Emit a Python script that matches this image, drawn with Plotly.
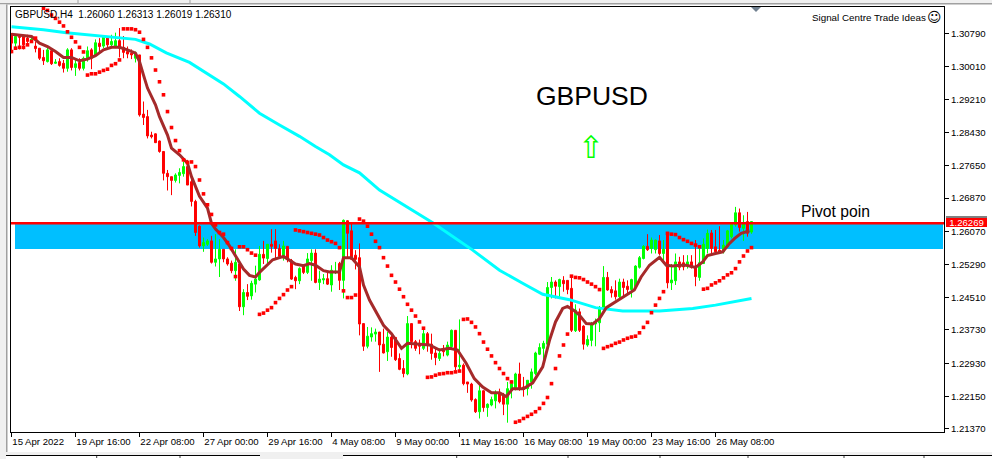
import plotly.graph_objects as go

# ---- data ----
tick_labels = ["15 Apr 2022", "19 Apr 16:00", "22 Apr 08:00", "27 Apr 00:00", "29 Apr 16:00", "4 May 08:00",
               "9 May 00:00", "11 May 16:00", "16 May 08:00", "19 May 00:00", "23 May 16:00", "26 May 08:00"]
tick_bars = [-0.05, 15.95, 31.95, 47.95, 63.95, 79.95, 95.95, 111.95, 127.95, 143.95, 159.95, 175.95]
price_ticks = [1.3079, 1.3001, 1.2921, 1.2843, 1.2765, 1.2687, 1.2607, 1.2529, 1.2451, 1.2373, 1.2293, 1.2215, 1.2137]
pivot = 1.26269
zone_low = 1.25657

opens = [
 1.3079,1.3056,1.3072,1.3072,1.3068,1.3062,1.3049,1.3044,1.3022,1.3012,
 1.3038,1.3008,1.3012,1.3008,1.2996,1.3040,1.2998,1.3010,1.2996,1.3018,
 1.3040,1.3028,1.3056,1.3049,1.3070,1.3052,1.3048,1.3062,1.3046,1.3036,
 1.3032,1.3020,1.3028,1.2887,1.2881,1.2837,1.2840,1.2823,1.2798,1.2746,
 1.2738,1.2729,1.2741,1.2745,1.2762,1.2726,1.2679,1.2620,1.2573,1.2577,
 1.2585,1.2534,1.2542,1.2565,1.2542,1.2532,1.2514,1.2530,1.2428,1.2462,
 1.2454,1.2482,1.2492,1.2553,1.2543,1.2577,1.2585,1.2567,1.2548,1.2572,
 1.2538,1.2498,1.2490,1.2526,1.2510,1.2538,1.2556,1.2486,1.2492,1.2495,
 1.2480,1.2509,1.2531,1.2491,1.2633,1.2609,1.2551,1.2545,1.2388,1.2334,
 1.2356,1.2363,1.2368,1.2339,1.2321,1.2356,1.2355,1.2305,1.2281,1.2268,
 1.2388,1.2345,1.2341,1.2329,1.2364,1.2339,1.2318,1.2305,1.2326,1.2313,
 1.2333,1.2372,1.2285,1.2289,1.2249,1.2244,1.2207,1.2178,1.2228,1.2188,
 1.2194,1.2204,1.2221,1.2218,1.2196,1.2229,1.2233,1.2268,1.2237,1.2233,
 1.2249,1.2269,1.2315,1.2329,1.2339,1.2474,1.2487,1.2476,1.2491,1.2491,
 1.2472,1.2371,1.2416,1.2382,1.2337,1.2348,1.2387,1.2390,1.2424,1.2498,
 1.2469,1.2466,1.2452,1.2487,1.2477,1.2469,1.2476,1.2522,1.2543,1.2572,
 1.2567,1.2564,1.2585,1.2555,1.2603,1.2485,1.2490,1.2535,1.2533,1.2525,
 1.2535,1.2525,1.2498,1.2531,1.2567,1.2604,1.2571,1.2563,1.2559,1.2571,
 1.2595,1.2623,1.2652,1.2615,1.2631,1.26060]
highs = [
 1.3079,1.3076,1.3076,1.3076,1.3076,1.3072,1.3060,1.3044,1.3040,1.3046,
 1.3040,1.3018,1.3020,1.3016,1.3044,1.3044,1.3020,1.3020,1.3024,1.3048,
 1.3044,1.3065,1.3068,1.3073,1.3073,1.3076,1.3081,1.3092,1.3073,1.3048,
 1.3041,1.3036,1.3028,1.2917,1.2897,1.2845,1.2841,1.2824,1.2798,1.2754,
 1.2738,1.2746,1.2758,1.2774,1.2778,1.2742,1.2683,1.2622,1.2593,1.2589,
 1.2597,1.2601,1.2589,1.2565,1.2546,1.2538,1.2565,1.2534,1.2470,1.2482,
 1.2490,1.2526,1.2573,1.2585,1.2577,1.2613,1.2613,1.2577,1.2585,1.2572,
 1.2542,1.2502,1.2522,1.2530,1.2556,1.2565,1.2565,1.2514,1.2506,1.2510,
 1.2527,1.2535,1.2535,1.2636,1.2634,1.2630,1.2563,1.2579,1.2388,1.2380,
 1.2379,1.2376,1.2368,1.2376,1.2368,1.2360,1.2356,1.2317,1.2301,1.2406,
 1.2388,1.2349,1.2350,1.2376,1.2368,1.2364,1.2329,1.2329,1.2337,1.2345,
 1.2374,1.2372,1.2398,1.2293,1.2249,1.2247,1.2210,1.2247,1.2229,1.2198,
 1.2214,1.2229,1.2233,1.2223,1.2249,1.2253,1.2271,1.2295,1.2261,1.2253,
 1.2281,1.2321,1.2341,1.2347,1.2487,1.2499,1.2491,1.2495,1.2501,1.2491,
 1.2503,1.2434,1.2424,1.2384,1.2360,1.2392,1.2400,1.2430,1.2525,1.2511,
 1.2477,1.2491,1.2495,1.2495,1.2491,1.2495,1.2527,1.2549,1.2575,1.2601,
 1.2593,1.2588,1.2599,1.2587,1.2604,1.2530,1.2555,1.2547,1.2551,1.2551,
 1.2551,1.2587,1.2575,1.2591,1.2612,1.2611,1.2611,1.2620,1.2587,1.2611,
 1.2628,1.2666,1.2662,1.2646,1.2654,1.26313]
lows = [
 1.3032,1.3044,1.3041,1.3041,1.3052,1.3060,1.3034,1.3016,1.3004,1.3010,
 1.3004,1.3007,1.3000,1.2986,1.2988,1.2991,1.2978,1.2991,1.2991,1.3012,
 1.2994,1.3024,1.3032,1.3044,1.3044,1.3044,1.3044,1.3022,1.3020,1.3020,
 1.3018,1.3010,1.2881,1.2861,1.2829,1.2829,1.2818,1.2795,1.2729,1.2705,
 1.2694,1.2724,1.2722,1.2738,1.2718,1.2667,1.2597,1.2569,1.2559,1.2573,
 1.2531,1.2524,1.2499,1.2534,1.2526,1.2508,1.2490,1.2418,1.2408,1.2444,
 1.2445,1.2462,1.2490,1.2530,1.2527,1.2557,1.2542,1.2542,1.2538,1.2534,
 1.2492,1.2470,1.2482,1.2506,1.2506,1.2490,1.2484,1.2468,1.2482,1.2480,
 1.2464,1.2506,1.2468,1.2448,1.2543,1.2541,1.2517,1.2360,1.2323,1.2329,
 1.2345,1.2345,1.2273,1.2317,1.2299,1.2309,1.2299,1.2277,1.2260,1.2265,
 1.2329,1.2323,1.2315,1.2325,1.2321,1.2302,1.2289,1.2299,1.2310,1.2310,
 1.2329,1.2277,1.2275,1.2241,1.2223,1.2202,1.2175,1.2162,1.2178,1.2166,
 1.2191,1.2186,1.2198,1.2170,1.2152,1.2210,1.2229,1.2228,1.2214,1.2217,
 1.2233,1.2265,1.2313,1.2293,1.2337,1.2448,1.2448,1.2448,1.2464,1.2458,
 1.2368,1.2368,1.2368,1.2326,1.2333,1.2334,1.2334,1.2368,1.2420,1.2466,
 1.2450,1.2445,1.2448,1.2453,1.2456,1.2450,1.2474,1.2519,1.2541,1.2561,
 1.2555,1.2555,1.2551,1.2535,1.2472,1.2468,1.2480,1.2515,1.2515,1.2519,
 1.2519,1.2477,1.2490,1.2530,1.2555,1.2555,1.2554,1.2555,1.2555,1.2569,
 1.2591,1.2619,1.2607,1.2585,1.2595,1.26019]
closes = [
 1.3056,1.3072,1.3070,1.3052,1.3060,1.3065,1.3043,1.3020,1.3014,1.3040,
 1.3007,1.3011,1.3003,1.2996,1.3040,1.2998,1.3007,1.2996,1.3020,1.3038,
 1.3020,1.3057,1.3048,1.3070,1.3052,1.3060,1.3062,1.3044,1.3034,1.3030,
 1.3028,1.3030,1.2885,1.2879,1.2835,1.2833,1.2819,1.2798,1.2746,1.2738,
 1.2729,1.2742,1.2748,1.2762,1.2718,1.2679,1.2605,1.2573,1.2581,1.2585,
 1.2534,1.2542,1.2565,1.2542,1.2530,1.2514,1.2534,1.2428,1.2462,1.2453,
 1.2484,1.2494,1.2553,1.2544,1.2577,1.2572,1.2567,1.2548,1.2573,1.2543,
 1.2494,1.2490,1.2519,1.2510,1.2542,1.2556,1.2486,1.2494,1.2495,1.2482,
 1.2515,1.2513,1.2491,1.2634,1.2603,1.2541,1.2541,1.2387,1.2334,1.2358,
 1.2364,1.2368,1.2337,1.2318,1.2356,1.2331,1.2302,1.2279,1.2269,1.2388,
 1.2345,1.2329,1.2334,1.2364,1.2339,1.2317,1.2307,1.2317,1.2321,1.2337,
 1.2372,1.2285,1.2289,1.2245,1.2244,1.2206,1.2178,1.2228,1.2188,1.2196,
 1.2207,1.2223,1.2202,1.2196,1.2233,1.2245,1.2268,1.2233,1.2231,1.2253,
 1.2273,1.2318,1.2331,1.2341,1.2474,1.2487,1.2477,1.2493,1.2483,1.2469,
 1.2372,1.2420,1.2372,1.2339,1.2350,1.2388,1.2392,1.2426,1.2498,1.2468,
 1.2461,1.2452,1.2487,1.2474,1.2469,1.2493,1.2525,1.2545,1.2572,1.2564,
 1.2587,1.2587,1.2555,1.2565,1.2485,1.2492,1.2535,1.2522,1.2523,1.2535,
 1.2522,1.2500,1.2533,1.2577,1.2603,1.2567,1.2559,1.2559,1.2575,1.2609,
 1.2625,1.2652,1.2617,1.2627,1.2603,1.26310]
sar = [
 1.3036,1.3044,1.3046,1.3046,1.3052,1.3060,1.3068,None,1.3139,1.3134,
 1.3123,1.3115,1.3106,1.3097,1.3083,1.3070,1.3059,1.3046,1.3035,1.2980,
 1.2983,1.2983,1.2987,1.2991,1.2994,1.3003,1.3007,1.3016,1.3090,1.3090,
 1.3090,1.3088,1.3082,1.3065,1.3046,1.3021,1.2992,1.2964,1.2933,1.2893,
 1.2855,1.2824,1.2800,1.2778,1.2772,1.2773,1.2762,1.2730,1.2697,1.2671,
 1.2648,1.2623,1.2605,1.2601,1.2581,1.2567,1.2500,1.2571,1.2571,1.2564,
 1.2556,1.2551,1.2410,1.2413,1.2420,1.2426,1.2438,1.2448,1.2457,1.2468,
 1.2476,1.2611,1.2609,1.2607,1.2605,1.2603,1.2601,1.2599,1.2593,1.2587,
 1.2583,1.2579,1.2569,1.2466,1.2450,1.2450,1.2456,1.2637,1.2632,1.2620,
 1.2601,1.2584,1.2569,1.2545,1.2525,1.2503,1.2487,1.2470,1.2452,1.2434,
 1.2420,1.2406,1.2392,1.2377,1.2260,1.2261,1.2265,1.2268,1.2269,1.2271,
 1.2271,1.2273,1.2275,1.2398,1.2399,1.2391,1.2380,1.2364,1.2344,1.2327,
 1.2311,1.2295,1.2281,1.2269,1.2257,1.2249,1.2153,1.2156,1.2162,1.2167,
 1.2172,1.2178,1.2186,1.2198,1.2212,1.2245,1.2281,1.2311,1.2337,1.2363,
 1.2501,1.2498,1.2497,1.2493,1.2487,1.2482,1.2476,1.2469,1.2329,1.2333,
 1.2336,1.2341,1.2344,1.2349,1.2353,1.2356,1.2358,1.2366,1.2379,1.2391,
 1.2414,1.2432,1.2448,1.2464,1.2603,1.2601,1.2600,1.2593,1.2588,1.2584,
 1.2579,1.2575,1.2571,1.2470,1.2472,1.2480,1.2485,1.2490,1.2497,1.2504,
 1.2509,1.2519,1.2535,1.2549,1.2561,1.2569]
ma_bars = [0,5,7,9,11,13,15,17,19,21,23,25,27,29,31,32,33,34,36,37,39,40,42,44,45,47,49,50,51,53,54.5,56,58,59.5,
           61,62,63.7,65.3,68,69.5,71,73,74.5,76,78,79.5,82,83,85,87,88,89.5,91.5,93,95,97.5,99,101.5,104.5,107,109.5,
           111.5,113.7,115.7,117.8,120,122,123.7,125.3,128,130.3,132.8,134.5,136,137.8,139,140.8,142,143.7,145.3,147,
           148.7,151,153.7,155.7,157.4,159.5,162,163.7,165.3,167,168.7,171,172.8,174,176,177.8,179.5,180.8,182.4,184.5]
ma_prices = [1.3077,1.3072,1.3056,1.3048,1.3036,1.3022,1.3022,1.3014,1.3018,1.3026,1.3040,1.3046,1.3046,1.3040,1.3032,
             1.3012,1.2980,1.2949,1.2909,1.2881,1.2837,1.2806,1.2790,1.2770,1.2738,1.2691,1.2663,1.2627,1.2613,1.2593,
             1.2573,1.2549,1.2518,1.2503,1.2499,1.2510,1.2526,1.2540,1.2548,1.2540,1.2530,1.2526,1.2531,1.2527,1.2514,
             1.2511,1.2511,1.2545,1.2545,1.2523,1.2480,1.2444,1.2408,1.2384,1.2364,1.2329,1.2341,1.2339,1.2337,1.2325,
             1.2329,1.2325,1.2293,1.2257,1.2237,1.2223,1.2223,1.2214,1.2233,1.2233,1.2247,1.2285,1.2348,1.2392,1.2424,
             1.2429,1.2418,1.2408,1.2388,1.2387,1.2400,1.2426,1.2440,1.2456,1.2468,1.2499,1.2527,1.2546,1.2527,1.2525,
             1.2527,1.2527,1.2522,1.2535,1.2550,1.2555,1.2559,1.2579,1.2591,1.2603,1.2609]
slow_bars = [0,8,13.7,23.7,31,34.5,38.7,44.5,48.7,53,57,62,67,72,76,79.5,83,87,92,96,105.3,115.3,122,128,132.8,
             139.5,146,152.8,162,164.5,170.3,176,181,185]
slow_prices = [1.3095,1.3088,1.3081,1.3072,1.3065,1.3054,1.3033,1.3010,1.2984,1.2959,1.2929,1.2889,1.2861,1.2834,1.2810,
               1.2790,1.2766,1.2747,1.2706,1.2682,1.2628,1.2563,1.2515,1.2483,1.2458,1.2445,1.2426,1.2418,1.2418,1.2420,
               1.2424,1.2432,1.2440,1.2448]

bars = list(range(len(opens)))

# ---- pixel frame of the chart window ----
W, H = 992, 459
L, R, T, B = 11, 944, 7, 432
px = lambda x: (x - L) / (R - L)
py = lambda y: (B - y) / (B - T)

fig = go.Figure()
fig.add_trace(go.Candlestick(x=bars, open=opens, high=highs, low=lows, close=closes, whiskerwidth=0,
                             increasing=dict(line=dict(color="#00FF00", width=1), fillcolor="#00FF00"),
                             decreasing=dict(line=dict(color="#FF0000", width=1), fillcolor="#FF0000"),
                             hoverinfo="skip", showlegend=False))
fig.add_trace(go.Scatter(x=slow_bars, y=slow_prices, mode="lines", line=dict(color="#00FFFF", width=3),
                         hoverinfo="skip", showlegend=False))
fig.add_trace(go.Scatter(x=ma_bars, y=ma_prices, mode="lines", line=dict(color="#A52A2A", width=3),
                         hoverinfo="skip", showlegend=False))
fig.add_trace(go.Scatter(x=bars, y=sar, mode="markers", marker=dict(color="#FF0000", size=3.6, symbol="square"),
                         hoverinfo="skip", showlegend=False))

shapes = [
    dict(type="rect", layer="below", xref="x", yref="y", x0=0.875, x1=232.875, y0=zone_low, y1=pivot,
         fillcolor="#00BFFF", line_width=0),
    dict(type="line", xref="paper", yref="y", x0=0, x1=1, y0=pivot, y1=pivot, line=dict(color="#FF0000", width=2.5)),
    # shift marker on the top edge
    dict(type="path", xref="paper", yref="paper",
         path=f"M {px(751)} {py(7)} L {px(761)} {py(7)} L {px(756)} {py(12)} Z", fillcolor="#708090", line_width=0),
    # black edge on top of the price tag
    dict(type="line", xref="paper", yref="paper", x0=px(946), x1=px(987), y0=py(217), y1=py(217),
         line=dict(color="#000000", width=1)),
]
# window chrome round the chart
chrome = "#F0F0F0"
for x0, y0, x1, y1, c in [(0, 0, W, 3, chrome), (0, 3, W, 4.5, "#A0A0A0"), (0, 4.5, 6, H, chrome), (6, 4.5, 7.5, 452, "#A0A0A0"),
                          (0, 452, W, H, chrome), (6, 455, 260, 456, "#000000"), (343, 455, W, 456, "#000000"),
                          (6, 456, 260, H, "#FFFFFF"), (343, 456, W, H, "#FFFFFF")]:
    shapes.append(dict(type="rect", layer="below", xref="paper", yref="paper", x0=px(x0), x1=px(x1), y0=py(y0), y1=py(y1),
                       fillcolor=c, line_width=0))
for x in (96.7, 180, 456.7, 568, 660, 748, 844, 924):
    shapes.append(dict(type="line", layer="below", xref="paper", yref="paper", x0=px(x), x1=px(x), y0=py(456), y1=py(458),
                       line=dict(color="#404040", width=1)))
for x in (78, 190):
    shapes.append(dict(type="line", layer="below", xref="paper", yref="paper", x0=px(x), x1=px(x), y0=py(0), y1=py(3),
                       line=dict(color="#A0A0A0", width=1)))

FONT = "Liberation Sans"
def note(x, y, text, size, color="#000000", anchor="left", family=FONT, **kw):
    return dict(xref="paper", yref="paper", x=px(x), y=py(y), text=text, showarrow=False, xanchor=anchor, yanchor="middle",
                font=dict(family=family, size=size, color=color), borderpad=0, borderwidth=0, **kw)

annotations = [
    note(15, 15, "GBPUSD,H4&nbsp;&nbsp;1.26060 1.26313 1.26019 1.26310", 10),
    note(926, 17, "Signal Centre Trade Ideas", 9.8, anchor="right"),
    note(934, 17, "☺", 14, anchor="center", family="DejaVu Sans"),
    note(591.5, 96, "GBPUSD", 26.5, anchor="center"),
    note(590.5, 146.5, "⇧", 31, color="#00FF00", anchor="center", family="DejaVu Sans"),
    note(835.5, 212, "Pivot poin", 15.7, anchor="center"),
    note(966.5, 222, "1.26269", 9.6, color="#FFFFFF", anchor="center", bgcolor="#FF0000", width=41, height=9),
]

fig.update_layout(
    width=W, height=H, margin=dict(l=L, r=W - R, t=T, b=H - B, pad=0),
    paper_bgcolor="#FFFFFF", plot_bgcolor="#FFFFFF", showlegend=False,
    shapes=shapes, annotations=annotations,
    font=dict(family=FONT, size=9.6, color="#000000"),
    xaxis=dict(range=[-0.125, 233.125], rangeslider=dict(visible=False), showgrid=False, zeroline=False, automargin=False,
               tickmode="array", tickvals=tick_bars, ticktext=tick_labels, tickangle=0, ticks="outside", ticklen=4, tickcolor="#000000",
               ticklabelposition="outside right", showline=True, linecolor="#000000", linewidth=1, mirror=True,
               tickfont=dict(family=FONT, size=9.6)),
    yaxis=dict(range=[1.21298, 1.31421], side="right", showgrid=False, zeroline=False, automargin=False,
               tickmode="array", tickvals=price_ticks, ticktext=[f"{v:.5f}" for v in price_ticks], ticks="outside", ticklen=4,
               tickcolor="#000000", showline=True, linecolor="#000000", linewidth=1, mirror=True,
               tickfont=dict(family=FONT, size=9.6)),
)

fig.write_html("out.html", config=dict(displayModeBar=False), post_script="document.body.style.margin='0';")
